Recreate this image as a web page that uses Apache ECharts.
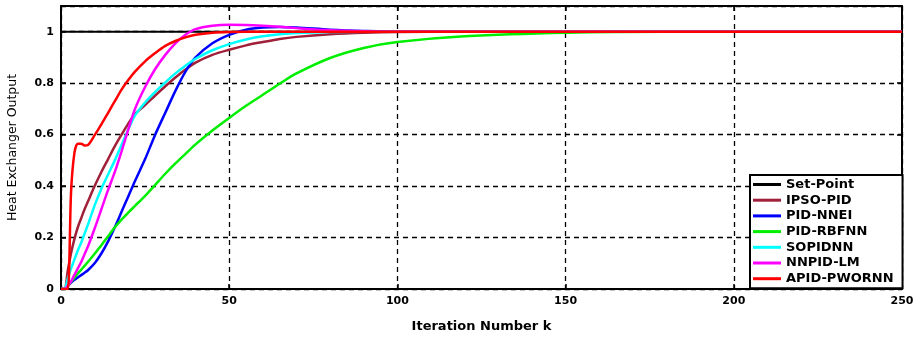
<!DOCTYPE html>
<html>
<head>
<meta charset="utf-8">
<script src="https://cdn.jsdelivr.net/npm/echarts@6/dist/echarts.min.js"></script>
<style>
  html, body { margin: 0; padding: 0; background: #fff; }
  #chart { width: 921px; height: 339px; }
</style>
</head>
<body>
<div id="chart"></div>
<script>
// Iteration numbers at which each controller response is sampled
const iterations = [0, 1, 2, 3, 4, 5, 6, 7, 8, 10, 12, 14, 16, 18, 20, 22, 25, 28, 31, 34, 37, 40, 45, 50, 55, 60, 65, 70, 80, 90, 100, 120, 150, 180, 250];

// Reference signal
const setPoint = [[0, 1], [250, 1]];

// Closed-loop outputs of the heat exchanger for each controller
const ipsoPid = [0, 0, 0.07, 0.14, 0.195, 0.24, 0.275, 0.31, 0.34, 0.4, 0.455, 0.505, 0.555, 0.6, 0.643, 0.68, 0.715, 0.752, 0.788, 0.822, 0.853, 0.88, 0.91, 0.93, 0.947, 0.96, 0.972, 0.98, 0.99, 0.996, 0.999, 1, 1, 1, 1];
const pidNnei = [0, 0, 0.012, 0.025, 0.036, 0.045, 0.054, 0.063, 0.073, 0.1, 0.138, 0.185, 0.24, 0.3, 0.36, 0.42, 0.505, 0.6, 0.685, 0.77, 0.845, 0.9, 0.955, 0.988, 1.008, 1.016, 1.018, 1.016, 1.008, 1.003, 1, 1, 1, 1, 1];
const pidRbfnn = [0, 0, 0.012, 0.028, 0.044, 0.06, 0.075, 0.09, 0.105, 0.137, 0.17, 0.205, 0.24, 0.27, 0.297, 0.323, 0.362, 0.405, 0.448, 0.488, 0.525, 0.562, 0.616, 0.665, 0.712, 0.755, 0.798, 0.838, 0.898, 0.937, 0.96, 0.982, 0.996, 1, 1];
const sopidnn = [0, 0, 0.04, 0.08, 0.115, 0.15, 0.18, 0.215, 0.25, 0.325, 0.39, 0.445, 0.5, 0.56, 0.62, 0.675, 0.725, 0.766, 0.803, 0.838, 0.868, 0.895, 0.928, 0.952, 0.97, 0.982, 0.99, 0.995, 0.999, 1, 1, 1, 1, 1, 1];
const nnpidLm = [0, 0, 0.012, 0.03, 0.055, 0.08, 0.105, 0.135, 0.165, 0.235, 0.31, 0.385, 0.455, 0.535, 0.62, 0.7, 0.785, 0.855, 0.91, 0.955, 0.988, 1.01, 1.023, 1.027, 1.026, 1.023, 1.019, 1.014, 1.006, 1.002, 1, 1, 1, 1, 1];
const apidPwornn = [0, 0, 0, 0.38, 0.53, 0.565, 0.565, 0.558, 0.56, 0.598, 0.64, 0.685, 0.73, 0.775, 0.812, 0.845, 0.885, 0.917, 0.945, 0.964, 0.978, 0.988, 0.996, 0.999, 1, 1, 1, 1, 1, 1, 1, 1, 1, 1, 1];

// Axis ranges and tick spacing
const xTicks = { min: 0, max: 250, interval: 50 };
const yTicks = { min: 0, max: 1.1, interval: 0.2 };

const pair = vals => iterations.map((k, i) => [k, vals[i]]);

const FONT = 'DejaVu Sans';
const dashed = { type: [5, 4], color: '#000', width: 1.3 };

const curve = (name, color, vals) => ({
  name, type: 'line', data: pair(vals), color,
  showSymbol: false, smooth: 0.3,
  lineStyle: { color, width: 2.5 }, xAxisIndex: 0, yAxisIndex: 0
});

const chart = echarts.init(document.getElementById('chart'), null, { renderer: 'canvas' });
chart.setOption({
  animation: false,
  backgroundColor: '#fff',
  grid: { left: 61, right: 19, top: 6, bottom: 50, containLabel: false, outerBoundsMode: 'none' },
  xAxis: [{
    type: 'value', min: xTicks.min, max: xTicks.max, interval: xTicks.interval,
    name: 'Iteration Number k', nameLocation: 'middle', nameGap: 31,
    nameTextStyle: { fontFamily: FONT, fontWeight: 'bold', fontSize: 13, color: '#000' },
    axisLine: { show: true, lineStyle: { color: '#000', width: 2 } },
    axisTick: { show: true, inside: true, length: 5, lineStyle: { color: '#000', width: 1.5 } },
    axisLabel: { margin: 7, fontFamily: FONT, fontWeight: 'bold', fontSize: 11, color: '#000' },
    splitLine: { show: true, lineStyle: dashed }
  }, {
    type: 'value', position: 'top', min: xTicks.min, max: xTicks.max, interval: xTicks.interval,
    axisLine: { show: true, onZero: false, lineStyle: { color: '#000', width: 2 } },
    axisTick: { show: true, inside: true, length: 5, lineStyle: { color: '#000', width: 1.5 } },
    axisLabel: { show: false }, splitLine: { show: false }
  }],
  yAxis: [{
    type: 'value', min: yTicks.min, max: yTicks.max, interval: yTicks.interval,
    name: 'Heat Exchanger Output', nameLocation: 'middle', nameGap: 42, nameRotate: 90,
    nameTextStyle: { fontFamily: FONT, fontSize: 12.5, color: '#000' },
    axisLine: { show: true, lineStyle: { color: '#000', width: 2 } },
    axisTick: { show: true, inside: true, length: 5, lineStyle: { color: '#000', width: 1.5 } },
    axisLabel: {
      margin: 7, fontFamily: FONT, fontWeight: 'bold', fontSize: 11, color: '#000',
      formatter: v => v > 1.05 ? '' : (Math.abs(v) < 1e-9 ? '0' : Math.abs(v - 1) < 1e-9 ? '1' : v.toFixed(1))
    },
    splitLine: { show: true, lineStyle: dashed }
  }, {
    type: 'value', position: 'right', min: yTicks.min, max: yTicks.max, interval: yTicks.interval,
    axisLine: { show: true, onZero: false, lineStyle: { color: '#000', width: 2 } },
    axisTick: { show: true, inside: true, length: 5, lineStyle: { color: '#000', width: 1.5 } },
    axisLabel: { show: false }, splitLine: { show: false }
  }],
  legend: {
    orient: 'vertical', left: 750, top: 175,
    padding: [3, 9, 3, 3], itemGap: 2.7, itemWidth: 28, itemHeight: 3, icon: 'rect',
    backgroundColor: '#fff', borderColor: '#000', borderWidth: 2,
    textStyle: { fontFamily: FONT, fontWeight: 'bold', fontSize: 13, color: '#000' },
    data: ['Set-Point', 'IPSO-PID', 'PID-NNEI', 'PID-RBFNN', 'SOPIDNN', 'NNPID-LM', 'APID-PWORNN']
  },
  series: [
    {
      name: 'Set-Point', type: 'line', data: setPoint, color: '#000',
      showSymbol: false, lineStyle: { color: '#000', width: 2 }
    },
    curve('IPSO-PID', '#a0203a', ipsoPid),
    curve('PID-NNEI', '#0000ff', pidNnei),
    curve('PID-RBFNN', '#00ee00', pidRbfnn),
    curve('SOPIDNN', '#00ffff', sopidnn),
    curve('NNPID-LM', '#ff00ff', nnpidLm),
    curve('APID-PWORNN', '#ff0000', apidPwornn)
  ]
});
</script>
</body>
</html>
